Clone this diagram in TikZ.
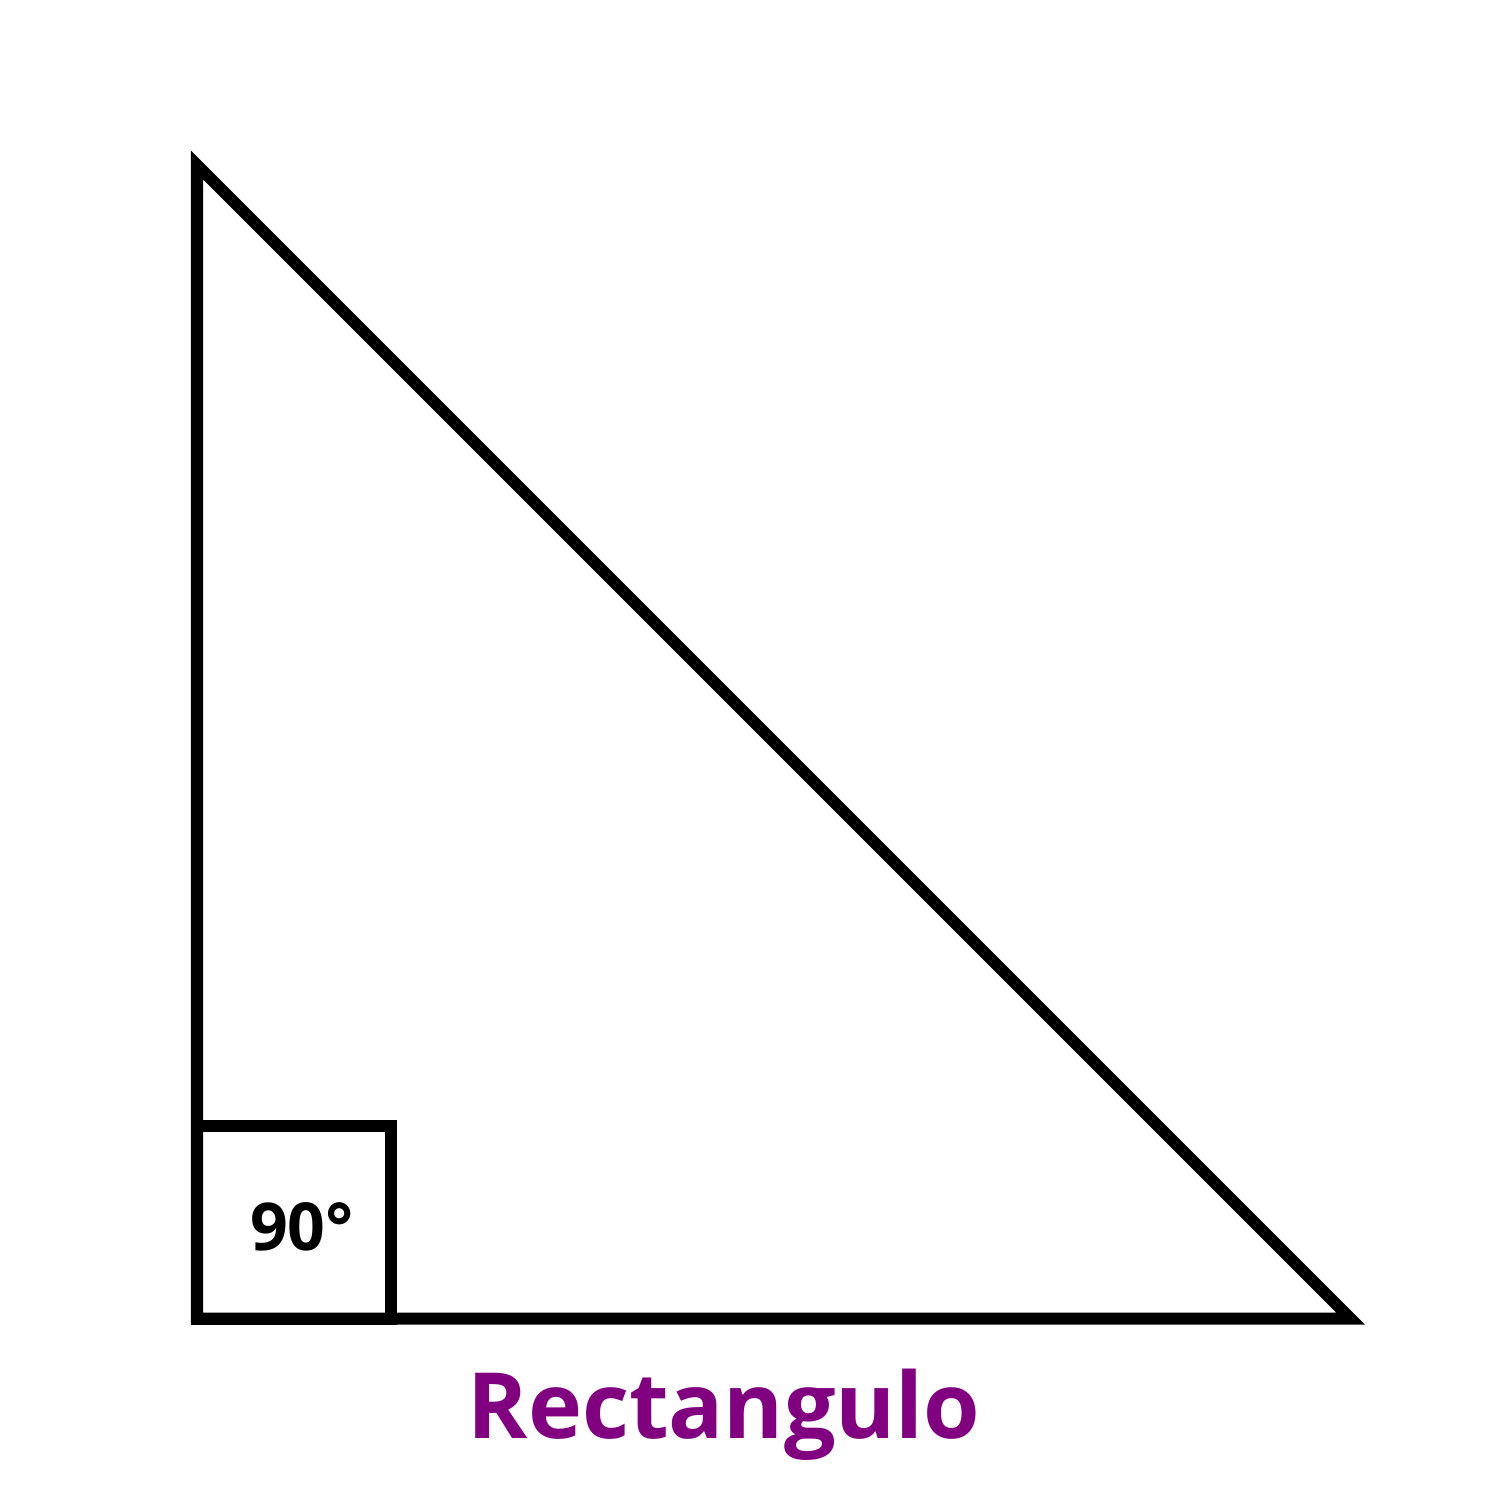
\documentclass[tikz,border=0pt]{standalone}
\usepackage{fontspec}
\setmainfont{Open Sans}
\definecolor{labelpurple}{HTML}{800080}
\begin{document}
\begin{tikzpicture}[x=0.01cm,y=-0.01cm,
  edge/.style={draw=black,line width=0.12cm,line join=miter,miter limit=10},
  anglelabel/.style={font=\fontsize{18.8pt}{20pt}\selectfont\bfseries,anchor=base,inner sep=0pt},
  titlelabel/.style={font=\fontsize{26pt}{28pt}\selectfont\bfseries,text=labelpurple,anchor=base,inner sep=0pt}]
\useasboundingbox[fill=white] (0,0) rectangle (1500,1500);
\coordinate (A) at (197,165);
\coordinate (B) at (197,1318.5);
\coordinate (C) at (1350.5,1318.5);
\coordinate (S) at (391,1125.5);
\draw[edge] (A) -- (B) -- (C) -- cycle;
\draw[edge] (B) rectangle (S);
\node[anglelabel] (ang) at (302,1250) {90°};
\node[titlelabel] (title) at (724,1438) {Rectangulo};
\end{tikzpicture}
\end{document}
